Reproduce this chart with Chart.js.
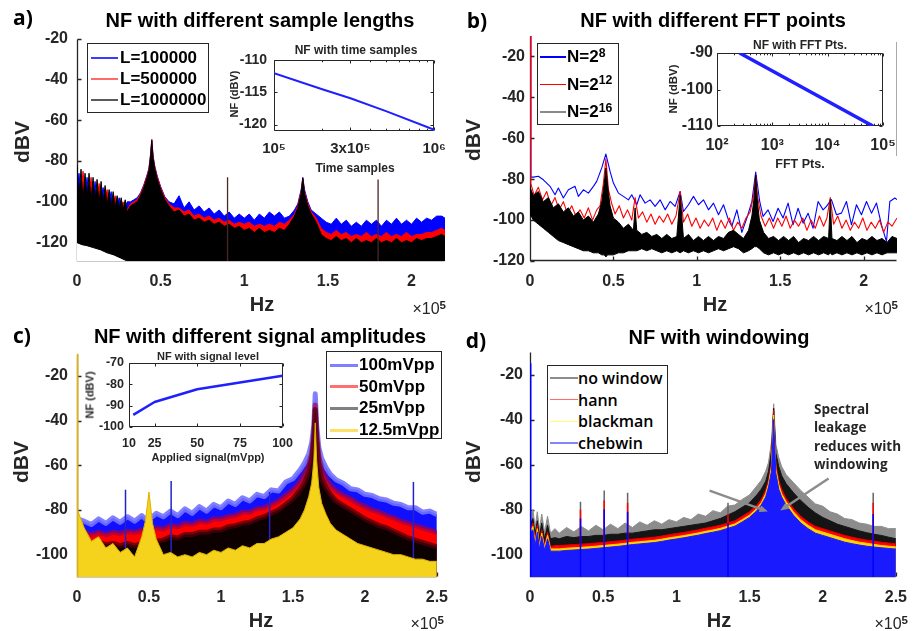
<!DOCTYPE html>
<html>
<head>
<meta charset="utf-8">
<title>Noise floor</title>
<script src="https://cdn.jsdelivr.net/npm/chart.js@4.4.1/dist/chart.umd.min.js"></script>
<style>
  html, body { margin: 0; padding: 0; background: #fff; }
  body { position: relative; width: 918px; height: 631px; overflow: hidden; font-family: "Liberation Sans", Arial, sans-serif; color: #000; }
  canvas { position: absolute; }
  .t { position: absolute; white-space: nowrap; line-height: 1; font-weight: bold; }
  .leg { position: absolute; box-sizing: border-box; border: 1px solid #262626; background: #fff; }
  .leg .ln { position: absolute; }
  .leg .tx { position: absolute; white-space: nowrap; line-height: 1; transform: translateY(-50%); }
  .sup { position: relative; top: -0.45em; font-size: 0.72em; }
</style>
</head>
<body>
<canvas id="chartA"></canvas>
<canvas id="chartB"></canvas>
<canvas id="chartC"></canvas>
<canvas id="chartD"></canvas>
<canvas id="insetA"></canvas>
<canvas id="insetB"></canvas>
<canvas id="insetC"></canvas>
<script>
// ===================== Data (frequency in units of 1e5 Hz, level in dBV) =====================
const freqTicksAB = [0, 0.5, 1, 1.5, 2];
const freqTicksCD = [0, 0.5, 1, 1.5, 2, 2.5];
const dbTicksAB = [-120, -100, -80, -60, -40, -20];
const dbTicksCD = [-100, -80, -60, -40, -20];

// a) rows: [freq, L=100000, L=500000, L=1000000] (upper edge of each trace)
const labelsA = ['L=100000', 'L=500000', 'L=1000000'];
const nfA = [
  [0, -96, -95, -82], [0.012, -86, -96, -98], [0.024, -97, -96, -84], [0.036, -98, -85, -99],
  [0.048, -97, -97, -86], [0.06, -88, -98, -99], [0.072, -99, -98, -86], [0.084, -99, -88, -100],
  [0.096, -99, -99, -88], [0.108, -90, -99, -100], [0.12, -100, -99, -89], [0.132, -100, -91, -101],
  [0.144, -100, -100, -90], [0.156, -93, -100, -101], [0.168, -101, -100, -92], [0.18, -101, -94, -102],
  [0.192, -101, -101, -94], [0.204, -95, -102, -103], [0.216, -102, -102, -95], [0.228, -102, -97, -103],
  [0.24, -102, -103, -97], [0.252, -98, -103, -104], [0.264, -103, -103, -98], [0.276, -103, -100, -104],
  [0.288, -103, -104, -99], [0.30, -100, -104, -105],
  [0.32, -100, -101, -102], [0.34, -99, -100, -101], [0.36, -98, -99, -100], [0.38, -95.5, -96, -97],
  [0.40, -91.5, -92, -93], [0.42, -86.5, -87, -88], [0.43, -83.5, -84, -85], [0.44, -76.5, -77, -78],
  [0.447, -69.5, -69.5, -70], [0.455, -77.5, -78, -79], [0.465, -82.5, -83, -84], [0.48, -87.5, -88, -89],
  [0.50, -92.5, -93, -94], [0.525, -97.5, -98, -99], [0.55, -100, -101, -102],
  [0.58, -101, -103, -105], [0.61, -97, -103, -104], [0.64, -103, -105, -107], [0.67, -100, -104, -106],
  [0.70, -104, -107, -109], [0.73, -102, -106, -108], [0.76, -105, -108, -110], [0.79, -103, -107, -109],
  [0.82, -106, -109, -111], [0.85, -104, -108, -110], [0.88, -107, -110, -112], [0.91, -105, -109, -111],
  [0.94, -108, -111, -113], [0.97, -106, -110, -112], [1.00, -108, -111, -114], [1.03, -106, -110, -113],
  [1.06, -109, -112, -115], [1.09, -106, -111, -113], [1.12, -108, -112, -115], [1.15, -105, -111, -114],
  [1.18, -107, -112, -115], [1.21, -105, -110, -113], [1.24, -108, -111, -114],
  [1.27, -107, -109, -111], [1.30, -104, -106, -107], [1.32, -101, -102, -103], [1.34, -94, -95, -96],
  [1.35, -88, -88.5, -88.5], [1.36, -94, -95, -96], [1.38, -100, -101, -102], [1.40, -104, -105, -106],
  [1.43, -106, -108, -110],
  [1.46, -108, -113, -116], [1.49, -110, -115, -118], [1.52, -111, -116, -119], [1.55, -108, -114, -117],
  [1.58, -111, -116, -119], [1.61, -109, -115, -118], [1.64, -112, -117, -120], [1.67, -110, -116, -118],
  [1.70, -112, -117, -120], [1.73, -109, -115, -119], [1.76, -111, -117, -120], [1.79, -109, -116, -118],
  [1.82, -112, -117, -120], [1.85, -109, -115, -119], [1.88, -111, -117, -120], [1.91, -108, -116, -118],
  [1.94, -111, -117, -120], [1.97, -109, -115, -119], [2.00, -111, -117, -120], [2.03, -108, -116, -118],
  [2.06, -110, -116, -119], [2.09, -108, -115, -118], [2.12, -109, -115, -118], [2.15, -107, -114, -117],
  [2.18, -107, -113, -116], [2.20, -108, -114, -117]
];
// lower edge of the traces near DC (white below)
const floorA = [[0, -120], [0.03, -121], [0.06, -121.5], [0.1, -122.5], [0.14, -123.5], [0.18, -125], [0.22, -126], [0.26, -127.5], [0.3, -129]];
const spikesA = [[0.9, -88], [1.8, -89]];
const insetSamples = [1e5, 2e5, 3e5, 5e5, 1e6];
const insetSamplesNF = [-112, -114.5, -115.9, -117.9, -120.8];
const insetSamplesTicks = [1e5, 3e5, 1e6];
const insetSamplesTickLabels = ['10⁵', '3x10⁵', '10⁶'];
const insetSamplesMinor = [2e5, 4e5, 5e5, 6e5, 7e5, 8e5, 9e5];

// b) FFT points
const labelsB = ['N=2<span class="sup">8</span>', 'N=2<span class="sup">12</span>', 'N=2<span class="sup">16</span>'];
const nfB8 = [
  [0, -10], [0.005, -79], [0.02, -79], [0.05, -78.6], [0.08, -80.3], [0.12, -83.5], [0.15, -87.6], [0.17, -84.3],
  [0.2, -89.2], [0.23, -85.2], [0.27, -83.5], [0.29, -88.4], [0.32, -85.2], [0.35, -86.8], [0.38, -83.5], [0.4, -81.1],
  [0.43, -74.5], [0.455, -67.7], [0.48, -76.2], [0.5, -81.9], [0.53, -86.8], [0.56, -88.4], [0.59, -90.1], [0.61, -87.6],
  [0.64, -92.5], [0.66, -87.6], [0.69, -91.7], [0.72, -90.1], [0.75, -93.3], [0.78, -90.1], [0.81, -95], [0.84, -90.9],
  [0.87, -93.3], [0.9, -86], [0.92, -95.8], [0.95, -92.5], [0.98, -88.4], [1.01, -92.5], [1.04, -90.1], [1.07, -95],
  [1.1, -91.7], [1.13, -97.4], [1.16, -92.5], [1.19, -100], [1.21, -103], [1.24, -95], [1.27, -106], [1.3, -99],
  [1.33, -91], [1.353, -76.5], [1.377, -90.9], [1.397, -98.2], [1.427, -95], [1.457, -100.7], [1.487, -94.2], [1.517, -99],
  [1.547, -91.7], [1.577, -102.3], [1.607, -94.2], [1.637, -101.5], [1.667, -96.6], [1.697, -104], [1.727, -90.9], [1.757, -95],
  [1.777, -93.3], [1.807, -90], [1.837, -97.4], [1.867, -96.6], [1.897, -90.9], [1.927, -102.3], [1.957, -92.5], [1.987, -97.4],
  [2.017, -90.9], [2.047, -96.6], [2.077, -91.7], [2.107, -102.3], [2.137, -110.5], [2.157, -90.9], [2.187, -89.2], [2.2, -90]
];
const nfB12 = [
  [0, -10], [0.005, -82], [0.025, -88], [0.05, -84], [0.075, -90], [0.1, -86], [0.125, -93], [0.15, -89], [0.175, -95],
  [0.2, -91], [0.225, -97], [0.25, -93], [0.275, -98], [0.3, -95], [0.325, -99], [0.35, -94], [0.375, -100], [0.4, -95],
  [0.42, -93], [0.44, -82], [0.455, -70], [0.47, -85], [0.49, -92], [0.51, -97], [0.535, -93], [0.56, -99], [0.585, -95],
  [0.61, -100], [0.63, -89], [0.65, -99], [0.675, -96], [0.7, -101], [0.725, -97], [0.75, -102], [0.775, -98], [0.8, -101],
  [0.825, -97], [0.85, -102], [0.875, -98], [0.9, -86], [0.92, -101], [0.945, -97], [0.97, -103], [0.995, -99], [1.02, -104],
  [1.045, -100], [1.07, -103], [1.095, -99], [1.12, -105], [1.145, -100], [1.17, -104], [1.195, -99], [1.22, -105], [1.245, -101],
  [1.27, -104], [1.295, -99], [1.32, -96], [1.34, -88], [1.353, -78], [1.365, -89], [1.385, -98], [1.41, -103], [1.435, -99],
  [1.46, -104], [1.485, -99], [1.51, -103], [1.535, -98], [1.56, -104], [1.585, -100], [1.61, -103], [1.635, -99], [1.66, -105],
  [1.685, -100], [1.71, -104], [1.735, -98], [1.76, -103], [1.78, -99], [1.8, -89], [1.82, -102], [1.845, -98], [1.87, -104],
  [1.895, -100], [1.92, -105], [1.945, -101], [1.97, -104], [1.995, -99], [2.02, -105], [2.045, -101], [2.07, -104], [2.095, -100],
  [2.12, -106], [2.145, -101], [2.17, -103], [2.2, -99]
];
// N=2^16: [freq, upper edge, lower edge] of the dense trace
const nfB16 = [
  [0, -84, -97], [0.02, -88, -100], [0.05, -86, -102], [0.08, -91, -104], [0.11, -89, -106], [0.14, -94, -108],
  [0.17, -92, -110], [0.2, -96, -111], [0.23, -94, -112], [0.26, -98, -113], [0.29, -96, -114], [0.32, -100, -115],
  [0.35, -98, -115], [0.38, -101, -116], [0.41, -97, -116], [0.43, -91, -117], [0.445, -82, -117], [0.455, -74.5, -118],
  [0.465, -83, -117], [0.48, -93, -117], [0.5, -99, -117], [0.53, -101, -116], [0.56, -104, -116], [0.59, -102, -115],
  [0.62, -105, -115], [0.63, -94, -115], [0.64, -105, -115], [0.67, -107, -114], [0.7, -106, -115], [0.73, -108, -114],
  [0.76, -107, -115], [0.79, -109, -116], [0.82, -107, -115], [0.85, -109, -116], [0.88, -108, -115], [0.9, -88, -116],
  [0.92, -109, -115], [0.95, -107, -116], [0.98, -110, -115], [1.01, -108, -116], [1.04, -110, -115], [1.07, -108, -116],
  [1.1, -110, -115], [1.13, -108, -114], [1.16, -109, -115], [1.19, -106, -114], [1.22, -105, -113], [1.25, -107, -114],
  [1.28, -109, -116], [1.31, -105, -115], [1.33, -98, -114], [1.345, -88, -113], [1.353, -78, -113], [1.36, -88, -113],
  [1.375, -100, -114], [1.4, -106, -116], [1.43, -109, -117], [1.46, -108, -116], [1.49, -110, -117], [1.52, -108, -116],
  [1.55, -110, -117], [1.58, -108, -116], [1.61, -111, -117], [1.64, -109, -116], [1.67, -110, -117], [1.7, -108, -116],
  [1.73, -110, -117], [1.76, -108, -116], [1.79, -109, -117], [1.8, -90, -116], [1.81, -109, -117], [1.84, -110, -116],
  [1.87, -108, -117], [1.9, -110, -116], [1.93, -108, -117], [1.96, -111, -116], [1.99, -109, -117], [2.02, -110, -116],
  [2.05, -108, -117], [2.08, -110, -116], [2.11, -109, -117], [2.14, -111, -116], [2.17, -108, -116], [2.2, -109, -116]
];
const insetFFT = [256, 4096, 65536];
const insetFFTNF = [-90, -100, -110];
const insetFFTTicks = [1e2, 1e3, 1e4, 1e5];
const insetFFTTickLabels = ['10²', '10³', '10⁴', '10⁵'];
const insetFFTMinor = [200, 300, 400, 500, 600, 700, 800, 900, 2000, 3000, 4000, 5000, 6000, 7000, 8000, 9000,
  20000, 30000, 40000, 50000, 60000, 70000, 80000, 90000];

// c) rows: [freq, 100mVpp, 50mVpp, 25mVpp, 12.5mVpp]
const labelsC = ['100mVpp', '50mVpp', '25mVpp', '12.5mVpp'];
const nfC = [
  [0.003, -84, -88, -90, -80], [0.05, -85, -90, -93, -88], [0.1, -86.5, -91, -95, -94], [0.15, -84, -90, -94.5, -92],
  [0.2, -86, -91, -95.5, -97], [0.25, -83.5, -90, -95, -95], [0.3, -85.5, -90.5, -96, -99], [0.35, -83, -89.5, -95, -97],
  [0.4, -85, -90, -96, -101], [0.45, -82.5, -89, -95, -92], [0.475, -84, -89.5, -95.5, -85], [0.5, -83.5, -88.5, -94.5, -72],
  [0.525, -83, -89, -95, -86], [0.55, -81.5, -88, -94, -93], [0.6, -83, -88.5, -93.5, -100], [0.65, -80.5, -87, -92, -99],
  [0.7, -82.5, -87.5, -92.5, -101], [0.75, -79.5, -86, -91, -100], [0.8, -81.5, -86.5, -91, -101], [0.85, -78.5, -85, -90, -99],
  [0.9, -80.5, -85.5, -90, -100], [0.95, -77.5, -84, -89, -98], [1.0, -79, -84, -89, -99], [1.05, -76, -83, -87.5, -97],
  [1.1, -77.5, -82.5, -87, -98], [1.15, -74.5, -81, -86, -96], [1.2, -76, -81, -85.5, -97], [1.25, -73, -79.5, -84, -95],
  [1.3, -74, -79, -83, -95], [1.35, -71, -77.5, -81.5, -93], [1.4, -71.5, -76, -80, -92], [1.45, -67.5, -73.5, -77.5, -90],
  [1.5, -66, -71, -75, -88], [1.55, -62, -67.5, -71, -84], [1.58, -59, -64, -68, -80], [1.61, -55, -60, -63, -74],
  [1.63, -50, -55, -58, -68], [1.645, -42, -46, -48, -58], [1.655, -28, -33, -35, -41], [1.665, -42, -46, -49, -58],
  [1.68, -52, -56, -60, -70], [1.7, -57, -62, -66, -77], [1.73, -61, -66, -70, -82], [1.76, -64, -69, -73, -86],
  [1.8, -66.5, -71.5, -76, -89], [1.85, -68, -73.5, -78, -91], [1.9, -70.5, -75, -80, -93], [1.95, -71, -77, -82, -95],
  [2.0, -73, -78.5, -84, -96], [2.05, -73.5, -80, -85.5, -97], [2.1, -75, -81, -87, -98], [2.15, -75.5, -82.5, -88, -99],
  [2.2, -77, -83.5, -89.5, -100], [2.25, -77.5, -85, -91, -100], [2.3, -79, -86, -92.5, -101], [2.35, -79, -87, -93.5, -102],
  [2.4, -81, -88, -94.5, -102], [2.45, -80.5, -89, -95.5, -103], [2.5, -82, -90, -96.5, -103]
];
const spikesC = [[0.337, -71], [0.654, -67], [1.338, -72], [2.337, -67.5]];
const dcC = [[0.003, -10]];
const insetLevel = [12.5, 25, 50, 100];
const insetLevelNF = [-94.3, -88.3, -82.3, -76];
const insetLevelTicks = [10, 25, 50, 75, 100];

// d) rows: [freq, no window (tips), no window (body), hann, blackman, chebwin]
const labelsD = ['no window', 'hann', 'blackman', 'chebwin'];
const nfD = [
  [0.005, -82, -86, -88, -89, -90], [0.02, -80, -84, -86, -87.5, -89], [0.035, -88, -91, -94, -95, -96],
  [0.05, -81, -85, -87, -88.5, -90], [0.065, -89, -92, -95.5, -96.5, -97.5], [0.08, -82, -86, -89, -90.5, -92],
  [0.1, -90, -93, -96, -97, -98], [0.12, -83, -87, -90, -91.5, -93], [0.14, -90.5, -93, -96.5, -97.5, -98.5],
  [0.17, -88.5, -92.5, -96, -97.5, -98.5], [0.2, -90.5, -93, -96, -97.5, -98.5], [0.25, -88, -92, -95.8, -97.2, -98.2],
  [0.3, -90, -92.5, -95.6, -97, -98], [0.35, -87.5, -92, -95.4, -96.8, -97.8], [0.4, -89.5, -92, -95.2, -96.6, -97.6],
  [0.45, -87, -91.5, -94.9, -96.3, -97.3], [0.5, -89, -91.5, -94.6, -96, -97], [0.55, -86.5, -91, -94.3, -95.7, -96.7],
  [0.6, -88.5, -91, -94, -95.4, -96.4], [0.65, -86, -90.5, -93.6, -95, -96], [0.7, -88, -90.5, -93.2, -94.6, -95.6],
  [0.75, -85.5, -90, -92.9, -94.3, -95.3], [0.8, -87, -89.5, -92.6, -94, -95], [0.85, -85, -89, -92.3, -93.7, -94.7],
  [0.9, -86.5, -89, -91.8, -93.2, -94.2], [0.95, -84.5, -88.5, -91.2, -92.6, -93.6], [1.0, -85.5, -88, -90.7, -92.1, -93.1],
  [1.05, -83.5, -87.5, -90.2, -91.6, -92.6], [1.1, -84.5, -87, -89.6, -91, -92], [1.15, -82, -86.5, -89, -90.4, -91.4],
  [1.2, -83, -86, -88.3, -89.7, -90.7], [1.25, -80.5, -85, -87.7, -89.1, -90.1], [1.3, -81.5, -84, -87, -88.4, -89.4],
  [1.35, -78.5, -82.5, -86, -87.4, -88.4], [1.4, -78, -81, -85, -86.4, -87.4], [1.45, -75.5, -79, -83, -84.5, -85.5],
  [1.5, -73.5, -77, -81, -82.5, -83.5], [1.55, -69.5, -73.5, -78, -79.5, -80.5], [1.58, -67, -71, -75.5, -77, -78],
  [1.61, -63, -67.5, -71.5, -73, -74.5], [1.63, -59, -63, -67, -68.5, -70], [1.65, -50, -54, -59, -61, -63],
  [1.665, -33, -35, -36, -38, -40], [1.68, -51, -55, -60, -62, -64], [1.7, -57, -61, -67, -69, -71],
  [1.72, -61, -65, -71, -73, -74.5], [1.75, -64.5, -68.5, -75, -76.5, -78], [1.8, -68, -72.5, -79.5, -81, -82.5],
  [1.85, -71.5, -76, -83, -84.5, -86], [1.9, -74.5, -79, -85.5, -87, -88.5], [1.95, -77.5, -81.5, -87.5, -89, -90.5],
  [2.0, -78.5, -83.5, -88.5, -90, -91.5], [2.05, -81, -85, -89.5, -91, -92.5], [2.1, -82, -86.5, -90.5, -92, -93.5],
  [2.15, -84, -87.5, -91.5, -93, -94.5], [2.2, -84.5, -88.5, -92.3, -93.8, -95.2], [2.25, -86, -89.5, -93, -94.5, -95.8],
  [2.3, -86.5, -90.3, -93.6, -95, -96.3], [2.35, -87.5, -91, -94, -95.5, -96.7], [2.4, -87.5, -91.5, -94.5, -96, -97],
  [2.45, -88.5, -92.3, -94.9, -96.3, -97.3], [2.5, -88.5, -93, -95.2, -96.6, -97.6]
];
// harmonic spikes: [freq, no-window top, hann top, chebwin top]
const spikesD = [[0.345, -76.5, -80, -84], [0.507, -71.5, -76, -80], [0.667, -72.5, -77, -81], [1.353, -77, -82, -86], [2.345, -72.5, -77, -82]];
const dcD = [[0.003, -15]];
// annotation arrows: [from freq, from dB, to freq, to dB]
const arrowsD = [[1.227, -71.6, 1.625, -80.9], [2.04, -66.2, 1.71, -80.4]];

// ===================== Helpers =====================
const AX = '#262626';
const TICK = { family: 'Liberation Sans', size: 16, weight: 'bold' };
Chart.defaults.font.family = 'Liberation Sans';
Chart.defaults.color = AX;

const matlabAxes = {
  id: 'matlabAxes',
  beforeDatasetsDraw(chart, args, o) {
    const { ctx, chartArea: a, scales } = chart;
    const x = scales.x, y = scales.y;
    const L = o.tick || 4;
    ctx.save();
    if (o.fill) { ctx.fillStyle = o.fill; ctx.fillRect(a.left, a.top, a.right - a.left, a.bottom - a.top); }
    ctx.strokeStyle = AX;
    ctx.lineWidth = o.lw || 1;
    const l = Math.round(a.left) + 0.5, b = Math.round(a.bottom) - 0.5;
    const r = Math.round(a.right) - 0.5, t = Math.round(a.top) + 0.5;
    ctx.beginPath();
    ctx.moveTo(l, t); ctx.lineTo(l, b); ctx.lineTo(r, b);
    if (o.box) { ctx.lineTo(r, t); ctx.lineTo(l, t); }
    const vx = (v, len) => {
      const p = Math.round(x.getPixelForValue(v)) + 0.5;
      ctx.moveTo(p, b); ctx.lineTo(p, b - len);
      if (o.box) { ctx.moveTo(p, t); ctx.lineTo(p, t + len); }
    };
    const vy = (v, len) => {
      const p = Math.round(y.getPixelForValue(v)) + 0.5;
      ctx.moveTo(l, p); ctx.lineTo(l + len, p);
      if (o.box) { ctx.moveTo(r, p); ctx.lineTo(r - len, p); }
    };
    x.ticks.forEach(tk => vx(tk.value, L));
    y.ticks.forEach(tk => vy(tk.value, L));
    (o.minorX || []).forEach(v => vx(v, L * 0.6));
    ctx.stroke();
    ctx.restore();
  }
};

const arrowPlugin = {
  id: 'arrows',
  afterDatasetsDraw(chart, args, o) {
    const { ctx, scales: { x, y } } = chart;
    ctx.save();
    ctx.strokeStyle = o.color; ctx.fillStyle = o.color; ctx.lineWidth = o.width;
    o.list.forEach(([x0, y0, x1, y1]) => {
      const ax = x.getPixelForValue(x0), ay = y.getPixelForValue(y0);
      const bx = x.getPixelForValue(x1), by = y.getPixelForValue(y1);
      const ang = Math.atan2(by - ay, bx - ax), h = 9;
      ctx.beginPath();
      ctx.moveTo(ax, ay);
      ctx.lineTo(bx - Math.cos(ang) * h * 0.8, by - Math.sin(ang) * h * 0.8);
      ctx.stroke();
      ctx.beginPath();
      ctx.moveTo(bx, by);
      ctx.lineTo(bx - h * Math.cos(ang - 0.4), by - h * Math.sin(ang - 0.4));
      ctx.lineTo(bx - h * Math.cos(ang + 0.4), by - h * Math.sin(ang + 0.4));
      ctx.closePath();
      ctx.fill();
    });
    ctx.restore();
  }
};

function axis(o) {
  return {
    type: o.type || 'linear', min: o.min, max: o.max,
    grid: { display: false, drawTicks: false, tickLength: 0 }, border: { display: false },
    afterBuildTicks: s => { s.ticks = o.ticks.map(v => ({ value: v })); },
    ticks: {
      font: o.font, color: AX, padding: o.pad, autoSkip: false, maxRotation: 0, minRotation: 0,
      callback: (v, i) => o.labels ? o.labels[i] : String(v)
    }
  };
}

function rowsToXY(rows, col) { return rows.map(r => ({ x: r[0], y: r[col] })); }

function spikeData(list, base, col) {
  const out = [];
  list.forEach(s => { out.push({ x: s[0], y: base }, { x: s[0], y: s[col] }, { x: s[0], y: null }); });
  return out;
}

function trace(data, fillColor, edgeColor, edgeW, order, fill) {
  return {
    data: data, backgroundColor: fillColor, borderColor: edgeColor, borderWidth: edgeW,
    pointRadius: 0, fill: fill, order: order, tension: 0, borderJoinStyle: 'round', clip: 0, spanGaps: false
  };
}

function makeChart(id, box, area, yW, xH, config) {
  const cv = document.getElementById(id);
  cv.style.left = box[0] + 'px'; cv.style.top = box[1] + 'px';
  cv.style.width = box[2] + 'px'; cv.style.height = box[3] + 'px';
  cv.width = box[2]; cv.height = box[3];
  const o = config.options;
  o.responsive = false;
  o.animation = false;
  o.layout = { padding: {
    left: area[0] - box[0] - yW, top: area[1] - box[1],
    right: box[0] + box[2] - area[2], bottom: box[1] + box[3] - area[3] - xH } };
  o.scales.x.afterFit = s => { s.height = xH; };
  o.scales.y.afterFit = s => { s.width = yW; };
  o.plugins = Object.assign({ legend: { display: false }, tooltip: { enabled: false } }, o.plugins || {});
  config.plugins = [matlabAxes].concat(config.plugins || []);
  return new Chart(cv, config);
}

function put(html, x, y, css, mode) {
  const d = document.createElement('div');
  d.className = 't';
  d.innerHTML = html;
  d.style.cssText = 'left:' + x + 'px;top:' + y + 'px;' + (css || '');
  const tf = { c: 'translate(-50%,-50%)', r: 'translate(-50%,-50%) rotate(-90deg)', e: 'translate(-100%,-50%)', n: 'none' };
  d.style.transform = tf[mode || 'c'];
  document.body.appendChild(d);
}

function legend(box, labels, colors, o) {
  const el = document.createElement('div');
  el.className = 'leg';
  el.style.cssText = `left:${box[0]}px;top:${box[1]}px;width:${box[2]}px;height:${box[3]}px;`;
  labels.forEach((lab, i) => {
    const cy = o.first + i * o.step;
    const ln = document.createElement('div');
    ln.className = 'ln';
    ln.style.cssText = `left:${o.lineX}px;width:${o.lineLen}px;top:${cy - o.lineW / 2}px;height:${o.lineW}px;background:${colors[i]};`;
    const tx = document.createElement('div');
    tx.className = 'tx';
    tx.innerHTML = lab;
    tx.style.cssText = `left:${o.textX}px;top:${cy}px;font:${o.font};`;
    el.appendChild(ln); el.appendChild(tx);
  });
  document.body.appendChild(el);
}

// ===================== a) sample lengths =====================
makeChart('chartA', [0, 20, 459, 285], [77, 35, 445, 261], 50, 32, {
  type: 'line',
  data: { datasets: [
    trace(spikeData(spikesA, -129, 1), 'transparent', '#4b2626', 1.3, 0, false),
    trace(floorA.map(p => ({ x: p[0], y: p[1] })), '#ffffff', '#000000', 1, 1, 'start'),
    trace(rowsToXY(nfA, 3), '#000000', '#000000', 1, 2, 'start'),
    trace(rowsToXY(nfA, 2), '#ff0000', '#ff0000', 1, 3, 'start'),
    trace(rowsToXY(nfA, 1), '#0000ff', '#0000ff', 1, 4, 'start')
  ] },
  options: {
    scales: {
      x: axis({ min: 0, max: 2.2, ticks: freqTicksAB, font: TICK, pad: 11 }),
      y: axis({ min: -129, max: -20, ticks: dbTicksAB, font: TICK, pad: 9 })
    },
    plugins: { matlabAxes: { tick: 4, lw: 1.3 } }
  }
});

// ===================== b) FFT points =====================
makeChart('chartB', [459, 20, 459, 285], [530, 36, 897, 261], 50, 32, {
  type: 'line',
  data: { datasets: [
    trace(rowsToXY(nfB16, 1), '#000000', '#000000', 1, 1, '+1'),
    trace(rowsToXY(nfB16, 2), 'transparent', '#000000', 1, 2, false),
    trace(nfB12.map(p => ({ x: p[0], y: p[1] })), 'transparent', '#ff0000', 1.1, 3, false),
    trace(nfB8.map(p => ({ x: p[0], y: p[1] })), 'transparent', '#0000ff', 1.1, 4, false)
  ] },
  options: {
    scales: {
      x: axis({ min: 0, max: 2.2, ticks: freqTicksAB, font: TICK, pad: 11 }),
      y: axis({ min: -120, max: -10, ticks: dbTicksAB, font: TICK, pad: 5 })
    },
    plugins: { matlabAxes: { tick: 4, lw: 1.3 } }
  }
});

// ===================== c) signal amplitudes =====================
makeChart('chartC', [0, 335, 459, 292], [77, 350, 445, 577], 50, 32, {
  type: 'line',
  data: { datasets: [
    trace(spikeData(dcC, -110, 1), 'transparent', '#e2b400', 2, 0, false),
    trace(rowsToXY(nfC, 4), '#f5d21c', '#dcb400', 1, 1, 'start'),
    trace(spikeData(spikesC, -110, 1), 'transparent', '#2323c8', 1.5, 2, false),
    trace(rowsToXY(nfC, 3), '#0d0000', 'rgba(80,0,10,0.75)', 5, 3, 'start'),
    trace(rowsToXY(nfC, 2), '#ff0000', 'rgba(165,0,70,0.7)', 5, 4, 'start'),
    trace(rowsToXY(nfC, 1), '#1010ff', 'rgba(115,115,255,0.9)', 5, 5, 'start')
  ] },
  options: {
    scales: {
      x: axis({ min: 0, max: 2.5, ticks: freqTicksCD, font: TICK, pad: 11 }),
      y: axis({ min: -110, max: -10, ticks: dbTicksCD, font: TICK, pad: 9 })
    },
    plugins: { matlabAxes: { tick: 4, lw: 1.3 } }
  }
});

// ===================== d) windowing =====================
makeChart('chartD', [459, 335, 459, 292], [530, 352, 907, 577], 50, 32, {
  type: 'line',
  data: { datasets: [
    trace(spikeData(dcD, -110, 1), 'transparent', '#0000ff', 2, 0, false),
    trace(spikeData(spikesD, -110, 3), 'transparent', '#0000ff', 1.5, 1, false),
    trace(rowsToXY(nfD, 5), '#1a1aff', '#1a1aff', 1, 2, 'start'),
    trace(rowsToXY(nfD, 4), '#ffd400', '#ffd400', 1, 3, 'start'),
    trace(spikeData(spikesD, -110, 2), 'transparent', '#ff0000', 1.5, 4, false),
    trace(rowsToXY(nfD, 3), '#ff0000', '#e00000', 1, 5, 'start'),
    trace(rowsToXY(nfD, 2), '#141414', '#141414', 1, 6, 'start'),
    trace(spikeData(spikesD, -110, 1), 'transparent', '#666666', 1.5, 7, false),
    trace(rowsToXY(nfD, 1), '#8c8c8c', '#8c8c8c', 1, 8, 'start')
  ] },
  options: {
    scales: {
      x: axis({ min: 0, max: 2.5, ticks: freqTicksCD, font: TICK, pad: 11 }),
      y: axis({ min: -110, max: -10, ticks: dbTicksCD, font: TICK, pad: 7 })
    },
    plugins: {
      matlabAxes: { tick: 4, lw: 1.3 },
      arrows: { list: arrowsD, color: '#8c8c8c', width: 2.5 }
    }
  },
  plugins: [arrowPlugin]
});

// ===================== Insets =====================
makeChart('insetA', [230, 45, 225, 125], [274, 57, 438, 131], 40, 30, {
  type: 'line',
  data: { datasets: [trace(insetSamples.map((v, i) => ({ x: v, y: insetSamplesNF[i] })), 'transparent', '#1f1fff', 2, 0, false)] },
  options: {
    scales: {
      x: axis({ type: 'logarithmic', min: 1e5, max: 1e6, ticks: insetSamplesTicks, labels: insetSamplesTickLabels,
                font: { family: 'Liberation Sans', size: 15, weight: 'bold' }, pad: 9 }),
      y: axis({ min: -121, max: -110, ticks: [-120, -115, -110], font: { family: 'Liberation Sans', size: 14, weight: 'bold' }, pad: 7 })
    },
    plugins: { matlabAxes: { box: true, tick: 3, fill: '#ffffff', minorX: insetSamplesMinor } }
  }
});

makeChart('insetB', [672, 38, 240, 130], [717, 53, 883, 126], 42, 30, {
  type: 'line',
  data: { datasets: [trace(insetFFT.map((v, i) => ({ x: v, y: insetFFTNF[i] })), 'transparent', '#1f1fff', 3.5, 0, false)] },
  options: {
    scales: {
      x: axis({ type: 'logarithmic', min: 1e2, max: 1e5, ticks: insetFFTTicks, labels: insetFFTTickLabels, font: TICK, pad: 10 }),
      y: axis({ min: -110, max: -90, ticks: [-110, -100, -90], font: TICK, pad: 4 })
    },
    plugins: { matlabAxes: { box: true, tick: 3, fill: '#ffffff', minorX: insetFFTMinor } }
  }
});

makeChart('insetC', [90, 350, 212, 108], [129, 363, 287, 427], 35, 28, {
  type: 'line',
  data: { datasets: [trace(insetLevel.map((v, i) => ({ x: v, y: insetLevelNF[i] })), 'transparent', '#1f1fff', 2.5, 0, false)] },
  options: {
    scales: {
      x: axis({ min: 10, max: 100, ticks: insetLevelTicks, font: { family: 'Liberation Sans', size: 12.5, weight: 'bold' }, pad: 9 }),
      y: axis({ min: -100, max: -70, ticks: [-100, -90, -80, -70], font: { family: 'Liberation Sans', size: 12.5, weight: 'bold' }, pad: 5 })
    },
    plugins: { matlabAxes: { box: true, tick: 3, fill: '#ffffff' } }
  }
});

// ===================== Text =====================
const TITLE = 'font-size:20px;color:#000;';
const LETTER = 'font-family:"Open Sans";font-weight:700;font-size:21px;color:#000;';
const AXT = 'font-size:21px;color:#262626;';
const HZ = 'font-size:20px;color:#262626;';
const X10 = 'font-size:16px;font-weight:normal;color:#262626;';
const SMALL = 'color:#262626;';

put('a)', 23, 17, LETTER);
put('NF with different sample lengths', 260, 20, TITLE);
put('b)', 477, 20, LETTER);
put('NF with different FFT points', 713, 20, TITLE);
put('c)', 22, 335, LETTER);
put('NF with different signal amplitudes', 260, 336, TITLE);
put('d)', 476, 340, LETTER);
put('NF with windowing', 719, 337, TITLE);

put('dBV', 21, 142, AXT, 'r');
put('dBV', 472, 140, AXT, 'r');
put('dBV', 20, 462, AXT, 'r');
put('dBV', 472, 462, AXT, 'r');

put('Hz', 262, 304, HZ);
put('Hz', 715, 304, HZ);
put('Hz', 261, 620, HZ);
put('Hz', 719, 620, HZ);

const x10 = '×10<span class="sup" style="font-weight:bold">5</span>';
put(x10, 446, 309, X10, 'e');
put(x10, 898, 309, X10, 'e');
put(x10, 444, 624, X10, 'e');
put(x10, 908, 624, X10, 'e');

put('NF with time samples', 356, 50, 'font-size:12px;' + SMALL);
put('NF (dBV)', 234, 94, 'font-size:11px;' + SMALL, 'r');
put('Time samples', 355, 168, 'font-size:12px;' + SMALL);
put('NF with FFT Pts.', 800, 45, 'font-size:12px;' + SMALL);
put('NF (dBV)', 674, 89, 'font-size:11.5px;' + SMALL, 'r');
put('FFT Pts.', 800, 164, 'font-size:12.5px;' + SMALL);
put('NF with signal level', 208, 356, 'font-size:11px;' + SMALL);
put('NF (dBV)', 90, 395, 'font-size:11px;' + SMALL, 'r');
put('Applied signal(mVpp)', 208, 457, 'font-size:11px;' + SMALL);

put('Spectral<br>leakage<br>reduces with<br>windowing', 814, 400,
    'font-family:"Open Sans";font-weight:700;font-size:13.5px;line-height:18.3px;color:#262626;', 'n');

// thin frame edge to the right of the FFT inset
const edge = document.createElement('div');
edge.style.cssText = 'position:absolute;left:896px;top:42px;width:0;height:114px;border-left:1px solid #aaa;';
document.body.appendChild(edge);

// ===================== Legends =====================
const LEGF = 'bold 17px "Liberation Sans"';
legend([87, 43, 122, 70], labelsA, ['#3b3bff', '#ff6a6a', '#5a5a5a'],
  { first: 14, step: 21, lineX: 3, lineLen: 27, lineW: 1.5, textX: 32, font: LEGF });
legend([537, 43, 82, 82], labelsB, ['#0000ff', '#ff0000', '#8a8a8a'],
  { first: 13, step: 27.5, lineX: 2, lineLen: 26, lineW: 1.5, textX: 29, font: LEGF });
legend([326, 351, 116, 88], labelsC, ['#8080ff', '#ff6f6f', '#808080', '#ffe066'],
  { first: 13, step: 21.7, lineX: 3, lineLen: 28, lineW: 3, textX: 32, font: LEGF });
legend([547, 365, 121, 89], labelsD, ['#8c8c8c', '#ff6a6a', '#ffff70', '#8484ff'],
  { first: 12, step: 21.7, lineX: 2, lineLen: 28, lineW: 1.5, textX: 30, font: '600 16px "Open Sans"' });
</script>
</body>
</html>
